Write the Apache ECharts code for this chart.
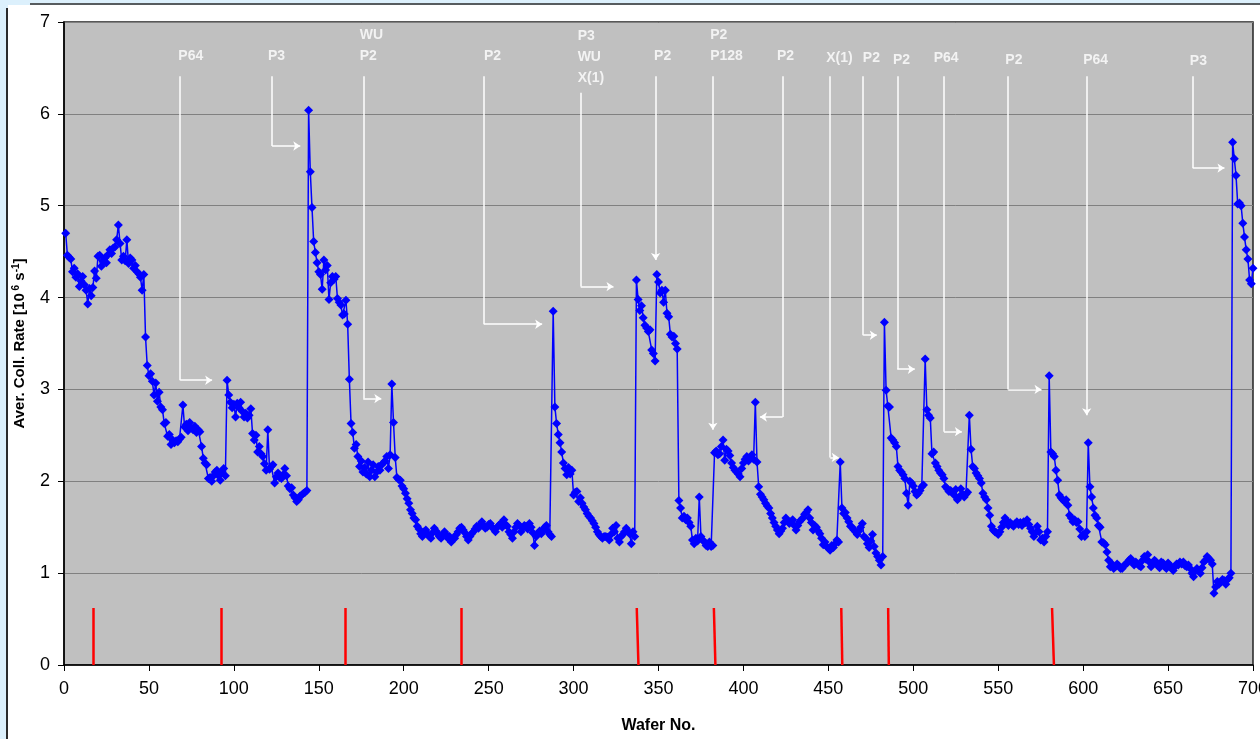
<!DOCTYPE html>
<html>
<head>
<meta charset="utf-8">
<title>Aver. Coll. Rate</title>
<script src="https://cdn.jsdelivr.net/npm/echarts@6/dist/echarts.min.js"></script>
<style>
  html, body { margin: 0; padding: 0; background: #dcf0fc; }
  #main { width: 1260px; height: 739px; }
</style>
</head>
<body>
<div id="main"></div>
<script>
// wafer numbers start at 1, one value per wafer
var firstWafer = 1;
var rate = [
  4.70, 4.46, 4.44, 4.42, 4.28, 4.32, 4.22, 4.26, 4.12, 4.18,
  4.23, 4.14, 4.08, 3.93, 4.10, 4.02, 4.11, 4.29, 4.21, 4.45,
  4.46, 4.34, 4.40, 4.43, 4.38, 4.47, 4.52, 4.48, 4.54, 4.55,
  4.63, 4.79, 4.59, 4.41, 4.45, 4.40, 4.63, 4.37, 4.43, 4.41,
  4.32, 4.35, 4.28, 4.26, 4.22, 4.08, 4.25, 3.57, 3.26, 3.15,
  3.17, 3.09, 2.94, 3.07, 2.87, 2.97, 2.81, 2.78, 2.63, 2.64,
  2.49, 2.51, 2.40, 2.45, 2.42, 2.44, 2.43, 2.46, 2.48, 2.83,
  2.59, 2.62, 2.55, 2.64, 2.58, 2.56, 2.60, 2.53, 2.56, 2.54,
  2.38, 2.25, 2.20, 2.18, 2.03, 2.04, 2.00, 2.06, 2.10, 2.12,
  2.06, 2.01, 2.10, 2.14, 2.06, 3.10, 2.94, 2.86, 2.80, 2.84,
  2.70, 2.85, 2.80, 2.86, 2.76, 2.70, 2.74, 2.69, 2.72, 2.79,
  2.52, 2.45, 2.50, 2.32, 2.38, 2.30, 2.27, 2.19, 2.12, 2.56,
  2.13, 2.16, 2.18, 1.98, 2.05, 2.09, 2.04, 2.03, 2.07, 2.14,
  2.06, 1.95, 1.92, 1.93, 1.85, 1.82, 1.78, 1.80, 1.84, 1.85,
  1.87, 1.88, 1.90, 6.04, 5.37, 4.98, 4.61, 4.49, 4.38, 4.28,
  4.25, 4.09, 4.41, 4.30, 4.35, 3.98, 4.16, 4.23, 4.20, 4.23,
  3.99, 3.95, 3.92, 3.81, 3.82, 3.97, 3.71, 3.11, 2.63, 2.53,
  2.36, 2.40, 2.27, 2.16, 2.22, 2.10, 2.15, 2.08, 2.21, 2.05,
  2.12, 2.18, 2.05, 2.10, 2.16, 2.12, 2.18, 2.20, 2.22, 2.27,
  2.14, 2.29, 3.06, 2.64, 2.26, 2.04, 2.02, 2.01, 1.95, 1.92,
  1.87, 1.81, 1.76, 1.69, 1.65, 1.60, 1.58, 1.51, 1.48, 1.43,
  1.40, 1.45, 1.47, 1.43, 1.40, 1.38, 1.44, 1.49, 1.46, 1.43,
  1.40, 1.38, 1.42, 1.45, 1.42, 1.38, 1.40, 1.34, 1.37, 1.38,
  1.42, 1.45, 1.49, 1.50, 1.47, 1.44, 1.40, 1.36, 1.40, 1.43,
  1.45, 1.48, 1.51, 1.49, 1.53, 1.56, 1.52, 1.49, 1.50, 1.53,
  1.54, 1.50, 1.48, 1.45, 1.50, 1.52, 1.54, 1.50, 1.58, 1.53,
  1.51, 1.45, 1.42, 1.38, 1.45, 1.50, 1.54, 1.52, 1.45, 1.49,
  1.52, 1.51, 1.48, 1.54, 1.50, 1.44, 1.30, 1.40, 1.43, 1.46,
  1.43, 1.47, 1.50, 1.52, 1.45, 1.42, 1.40, 3.85, 2.81, 2.63,
  2.51, 2.42, 2.32, 2.20, 2.14, 2.07, 2.15, 2.08, 2.12, 1.85,
  1.88, 1.89, 1.78, 1.82, 1.76, 1.72, 1.69, 1.65, 1.62, 1.60,
  1.57, 1.54, 1.50, 1.45, 1.42, 1.40, 1.38, 1.40, 1.40, 1.39,
  1.36, 1.42, 1.49, 1.45, 1.52, 1.38, 1.34, 1.40, 1.42, 1.45,
  1.49, 1.46, 1.43, 1.32, 1.45, 1.40, 4.19, 3.98, 3.86, 3.91,
  3.78, 3.70, 3.67, 3.63, 3.65, 3.43, 3.39, 3.31, 4.25, 4.17,
  4.05, 4.08, 3.95, 4.08, 3.83, 3.79, 3.60, 3.57, 3.58, 3.50,
  3.44, 1.79, 1.71, 1.60, 1.62, 1.58, 1.60, 1.55, 1.51, 1.36,
  1.32, 1.38, 1.35, 1.83, 1.40, 1.36, 1.34, 1.30, 1.29, 1.34,
  1.29, 1.30, 2.31, 2.33, 2.29, 2.30, 2.38, 2.45, 2.23, 2.35,
  2.33, 2.28, 2.20, 2.15, 2.12, 2.10, 2.08, 2.05, 2.14, 2.20,
  2.24, 2.27, 2.22, 2.25, 2.29, 2.24, 2.86, 2.21, 1.94, 1.86,
  1.83, 1.80, 1.76, 1.73, 1.71, 1.65, 1.60, 1.55, 1.51, 1.47,
  1.43, 1.46, 1.49, 1.55, 1.60, 1.57, 1.54, 1.56, 1.58, 1.52,
  1.47, 1.52, 1.56, 1.58, 1.60, 1.64, 1.66, 1.69, 1.60, 1.55,
  1.47, 1.52, 1.50, 1.46, 1.43, 1.38, 1.31, 1.34, 1.29, 1.27,
  1.25, 1.30, 1.28, 1.32, 1.36, 1.34, 2.21, 1.71, 1.65, 1.66,
  1.60, 1.56, 1.51, 1.50, 1.47, 1.45, 1.42, 1.46, 1.50, 1.54,
  1.40, 1.38, 1.32, 1.28, 1.35, 1.42, 1.29, 1.22, 1.18, 1.14,
  1.09, 1.18, 3.73, 2.99, 2.82, 2.81, 2.47, 2.45, 2.42, 2.38,
  2.16, 2.12, 2.10, 2.07, 2.03, 1.87, 1.74, 2.00, 1.98, 1.95,
  1.89, 1.85, 1.87, 1.90, 1.94, 1.96, 3.33, 2.78, 2.72, 2.69,
  2.30, 2.32, 2.20, 2.16, 2.12, 2.09, 2.07, 2.03, 1.94, 1.92,
  1.89, 1.90, 1.88, 1.85, 1.91, 1.80, 1.83, 1.92, 1.86, 1.83,
  1.86, 1.88, 2.72, 2.35, 2.16, 2.14, 2.09, 2.06, 2.03, 1.98,
  1.87, 1.83, 1.80, 1.71, 1.63, 1.51, 1.47, 1.45, 1.44, 1.42,
  1.45, 1.50, 1.55, 1.60, 1.57, 1.52, 1.55, 1.53, 1.51, 1.54,
  1.56, 1.53, 1.55, 1.52, 1.56, 1.55, 1.58, 1.53, 1.49, 1.45,
  1.40, 1.44, 1.51, 1.45, 1.36, 1.38, 1.34, 1.40, 1.45, 3.15,
  2.32, 2.30, 2.27, 2.12, 2.01, 1.85, 1.82, 1.80, 1.78, 1.80,
  1.74, 1.63, 1.60, 1.56, 1.58, 1.55, 1.56, 1.48, 1.40, 1.42,
  1.40, 1.45, 2.42, 1.94, 1.83, 1.71, 1.63, 1.60, 1.52, 1.50,
  1.34, 1.33, 1.31, 1.23, 1.14, 1.07, 1.10, 1.05, 1.07, 1.10,
  1.08, 1.05, 1.05, 1.08, 1.10, 1.11, 1.14, 1.16, 1.12, 1.09,
  1.12, 1.10, 1.08, 1.07, 1.14, 1.18, 1.15, 1.20, 1.12, 1.07,
  1.10, 1.14, 1.12, 1.08, 1.06, 1.12, 1.11, 1.07, 1.05, 1.11,
  1.09, 1.06, 1.03, 1.07, 1.10, 1.09, 1.12, 1.10, 1.12, 1.08,
  1.07, 1.09, 1.05, 1.00, 0.96, 1.02, 1.05, 1.03, 1.00, 1.06,
  1.12, 1.14, 1.18, 1.16, 1.14, 1.10, 0.78, 0.85, 0.91, 0.88,
  0.90, 0.93, 0.92, 0.88, 0.93, 0.95, 1.00, 5.69, 5.51, 5.33,
  5.02, 5.03, 5.00, 4.81, 4.66, 4.52, 4.42, 4.19, 4.15, 4.32
];

// axes
var xMin = 0, xMax = 700, xStep = 50;
var yMin = 0, yMax = 7, yStep = 1;

// red marks at the bottom (wafer at foot / at top of the mark)
var cutFoot = [17.1, 92.4, 165.8, 234.1, 338.2, 383.5, 458.2, 485.6, 582.8];
var cutHead = [17.1, 92.4, 165.8, 234.1, 337.2, 382.6, 457.6, 485.2, 581.7];
var cutHeight = 0.62;

// annotations: text, where the white line drops, where it bends (or ends), arrow end
var annText  = ['P64', 'P3', 'WU\nP2', 'P2', 'P3\nWU\nX(1)', 'P2', 'P2\nP128', 'P2',
                'X(1)', 'P2', 'P2', 'P64', 'P2', 'P64', 'P3'];
var annLineX = [68.4, 122.5, 176.2, 247.2, 304.2, 348.3, 382.0, 423.1,
                451.1, 470.5, 490.6, 518.1, 555.9, 602.1, 664.5];
var annTop   = [6.41, 6.41, 6.41, 6.41, 6.23, 6.41, 6.41, 6.41,
                6.41, 6.41, 6.41, 6.41, 6.41, 6.41, 6.41];
var annBend  = [3.10, 5.65, 2.90, 3.71, 4.12, 4.41, 2.56, 2.70,
                2.26, 3.59, 3.22, 2.54, 3.00, 2.72, 5.41];
var annEndX  = [87.2, 139.1, 186.8, 281.5, 323.5, null, null, 409.7,
                456.1, 478.5, 500.9, 528.6, 575.5, null, 683.2];
var annTextX = [67.6, 120.4, 174.4, 247.5, 302.7, 347.7, 380.7, 420.0,
                449.0, 470.6, 488.3, 512.3, 554.5, 600.3, 663.1];
var annTextY = [6.505, 6.505, 6.505, 6.505, 6.265, 6.505, 6.505, 6.505,
                6.49, 6.49, 6.47, 6.49, 6.47, 6.47, 6.45];

var chart = echarts.init(document.getElementById('main'));

var points = rate.map(function (v, i) { return [firstWafer + i, v]; });

var plainSegs = [], arrowSegs = [];
for (var i = 0; i < annText.length; i++) {
    if (annEndX[i] === null) {
        arrowSegs.push({ coords: [[annLineX[i], annTop[i]], [annLineX[i], annBend[i]]] });
    } else {
        plainSegs.push({ coords: [[annLineX[i], annTop[i]], [annLineX[i], annBend[i]]] });
        arrowSegs.push({ coords: [[annLineX[i], annBend[i]], [annEndX[i], annBend[i]]] });
    }
}
var textPts = annText.map(function (t, i) { return [annTextX[i], annTextY[i]]; });

var cutSegs = cutFoot.map(function (x, i) {
    return { coords: [[x, 0], [cutHead[i], cutHeight]] };
});

var font = '"Liberation Sans", Arial, sans-serif';

var option = {
    animation: false,
    backgroundColor: '#dcf0fc',
    textStyle: { fontFamily: font },
    graphic: [
        { type: 'rect', z: -100, silent: true, shape: { x: 8, y: 5, width: 1252, height: 734 }, style: { fill: '#ffffff' } },
        { type: 'line', z: -99, silent: true, shape: { x1: 7, y1: 8, x2: 7, y2: 739 }, style: { stroke: '#2b2b2b', lineWidth: 2 } },
        { type: 'line', z: -99, silent: true, shape: { x1: 30, y1: 4, x2: 1260, y2: 4 }, style: { stroke: '#2b2b2b', lineWidth: 1.5 } }
    ],
    grid: {
        left: 64, right: 7, top: 22, bottom: 74,
        outerBoundsMode: 'none',
        containLabel: false,
        show: true,
        backgroundColor: '#c0c0c0',
        borderColor: '#222',
        borderWidth: 1.5
    },
    xAxis: {
        type: 'value',
        min: xMin, max: xMax, interval: xStep,
        name: 'Wafer No.',
        nameLocation: 'middle',
        nameGap: 53,
        nameTextStyle: { fontSize: 16, fontWeight: 'bold', color: '#000', fontFamily: font },
        axisLine: { onZero: false, lineStyle: { color: '#000', width: 1.5 } },
        axisTick: { show: true, length: 6, lineStyle: { color: '#000' } },
        axisLabel: { fontSize: 18, color: '#000', margin: 15, fontFamily: font, hideOverlap: false },
        splitLine: { show: false }
    },
    yAxis: {
        type: 'value',
        min: yMin, max: yMax, interval: yStep,
        name: '{b|Aver. Coll. Rate [10}{s| 6}{b| s}{s|-1}{b|]}',
        nameLocation: 'middle',
        nameGap: 31,
        nameTextStyle: {
            color: '#000',
            rich: {
                b: { fontSize: 15, fontWeight: 'bold', fontFamily: font, color: '#000', lineHeight: 18 },
                s: { fontSize: 10, fontWeight: 'bold', fontFamily: font, color: '#000', lineHeight: 18, padding: [0, 0, 8, 0] }
            }
        },
        axisLine: { show: true, lineStyle: { color: '#000', width: 1.5 } },
        axisTick: { show: true, length: 6, lineStyle: { color: '#000' } },
        axisLabel: { fontSize: 18, color: '#000', margin: 14, fontFamily: font },
        splitLine: { show: true, lineStyle: { color: '#808080', width: 1 } }
    },
    series: [
        {
            name: 'rate',
            type: 'line',
            data: points,
            symbol: 'diamond',
            symbolSize: 9,
            showAllSymbol: true,
            lineStyle: { color: '#0000ff', width: 1.5 },
            itemStyle: { color: '#0000ff' },
            z: 5
        },
        {
            type: 'lines',
            coordinateSystem: 'cartesian2d',
            data: cutSegs,
            symbol: 'none',
            lineStyle: { color: '#ff0000', width: 2.5, opacity: 1 },
            silent: true,
            z: 3
        },
        {
            type: 'lines',
            coordinateSystem: 'cartesian2d',
            data: plainSegs,
            symbol: 'none',
            lineStyle: { color: '#ffffff', width: 1.5, opacity: 1 },
            silent: true,
            z: 4
        },
        {
            type: 'lines',
            coordinateSystem: 'cartesian2d',
            data: arrowSegs,
            symbol: ['none', 'arrow'],
            symbolSize: 7,
            lineStyle: { color: '#ffffff', width: 1.5, opacity: 1 },
            silent: true,
            z: 4
        },
        {
            type: 'scatter',
            data: textPts,
            symbolSize: 1,
            itemStyle: { color: 'rgba(0,0,0,0)' },
            silent: true,
            label: {
                show: true,
                position: [0, 0],
                align: 'left',
                verticalAlign: 'bottom',
                color: '#ffffff',
                fontSize: 14,
                fontWeight: 'bold',
                fontFamily: font,
                lineHeight: 21,
                formatter: function (p) { return annText[p.dataIndex]; }
            },
            z: 4
        }
    ]
};

chart.setOption(option);
</script>
</body>
</html>
